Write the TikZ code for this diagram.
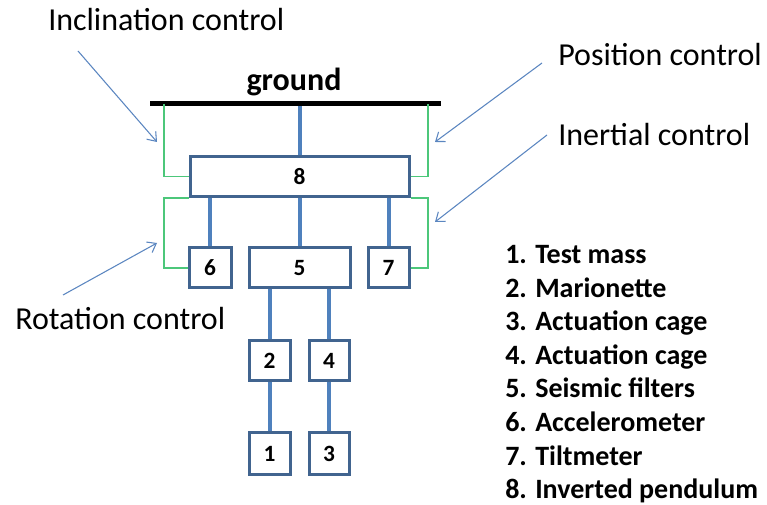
\documentclass[tikz,border=0pt]{standalone}
\usepackage{fontspec}
\setmainfont{Carlito}
\usetikzlibrary{arrows.meta}
\definecolor{boxblue}{HTML}{41648F}
\definecolor{linkblue}{HTML}{4F81BD}
\definecolor{ctrlgreen}{HTML}{4CC77A}
\definecolor{arrowblue}{HTML}{5B86C0}
\tikzset{
  stage/.style={draw=boxblue, line width=2.25pt, fill=white, inner sep=0pt,
    minimum height=30pt, font=\fontsize{17.5}{20}\selectfont\bfseries},
  link/.style={draw=linkblue, line width=3pt},
  loop/.style={draw=ctrlgreen, line width=0.8pt},
  pointer/.style={draw=arrowblue, line width=0.8pt,
    -{Straight Barb[length=6pt,width=9pt,line width=0.8pt]}},
  ctrllabel/.style={anchor=base west, inner sep=0pt, font=\fontsize{24}{28}\selectfont},
  legend/.style={anchor=base west, inner sep=0pt, font=\fontsize{21}{24}\selectfont\bfseries}
}
\begin{document}
\begin{tikzpicture}[x=0.75pt,y=-0.75pt]
\useasboundingbox (0,0) rectangle (767,505);

% ground bar
\node[fill=black, inner sep=0pt, minimum width=218.25pt, minimum height=3.75pt] (gnd) at (295.5,103.5) {};
\node[anchor=base, inner sep=0pt, font=\fontsize{24}{28}\selectfont\bfseries] (gndlabel) at (294,91) {ground};

% stages
\node[stage, minimum width=164.25pt] (b8) at (299.5,176.5) {8};
\node[stage, minimum width=31.5pt]  (b6) at (210,268) {6};
\node[stage, minimum width=75.75pt] (b5) at (299.5,268) {5};
\node[stage, minimum width=30.75pt] (b7) at (388.5,268) {7};
\node[stage, minimum width=30.75pt] (b2) at (269.5,361) {2};
\node[stage, minimum width=30pt]    (b4) at (329,361) {4};
\node[stage, minimum width=30.75pt, minimum height=30.75pt] (b1) at (269.5,453.5) {1};
\node[stage, minimum width=30pt, minimum height=30.75pt]    (b3) at (329,453.5) {3};

% suspension links
\draw[link] (b8.north) -- (b8.north |- gnd.south);
\draw[link] (b6.north) -- (b6.north |- b8.south);
\draw[link] (b5.north) -- (b5.north |- b8.south);
\draw[link] (b7.north) -- (b7.north |- b8.south);
\draw[link] (b2.north) -- (b2.north |- b5.south);
\draw[link] (b4.north) -- (b4.north |- b5.south);
\draw[link] (b1.north) -- (b2.south);
\draw[link] (b3.north) -- (b4.south);

% control loops
\coordinate (gl) at (164,104);
\coordinate (gr) at (428,104);
\draw[loop] (gl) |- (b8.west);
\draw[loop] (gr) |- (b8.east);
\draw[loop] (b8.south west) -| (gl |- b6.west) -- (b6.west);
\draw[loop] (b8.south east) -| (gr |- b7.east) -- (b7.east);

% control labels
\node[ctrllabel] (incl) at (48,31) {Inclination control};
\node[ctrllabel] (pos)  at (558,66) {Position control};
\node[ctrllabel] (iner) at (558,146) {Inertial control};
\node[ctrllabel] (rot)  at (15,330) {Rotation control};

\coordinate (inclfrom) at (78,51);
\coordinate (inclto)   at (157,142);
\coordinate (posfrom)  at (542,63);
\coordinate (posto)    at (435,142);
\coordinate (inerfrom) at (547,135);
\coordinate (inerto)   at (435,222);
\coordinate (rotfrom)  at (63,295);
\coordinate (rotto)    at (157,243);
\draw[pointer] (inclfrom) -- (inclto);
\draw[pointer] (posfrom) -- (posto);
\draw[pointer] (inerfrom) -- (inerto);
\draw[pointer] (rotfrom) -- (rotto);

% legend
\foreach \n/\t [count=\i from 0] in {1/Test mass,2/Marionette,3/Actuation cage,4/Actuation cage,
  5/Seismic filters,6/Accelerometer,7/Tiltmeter,8/Inverted pendulum} {
  \node[legend] (num\n) at (505,264+33.5*\i) {\n.};
  \node[legend] (item\n) at (535,264+33.5*\i) {\t};
}
\end{tikzpicture}
\end{document}
